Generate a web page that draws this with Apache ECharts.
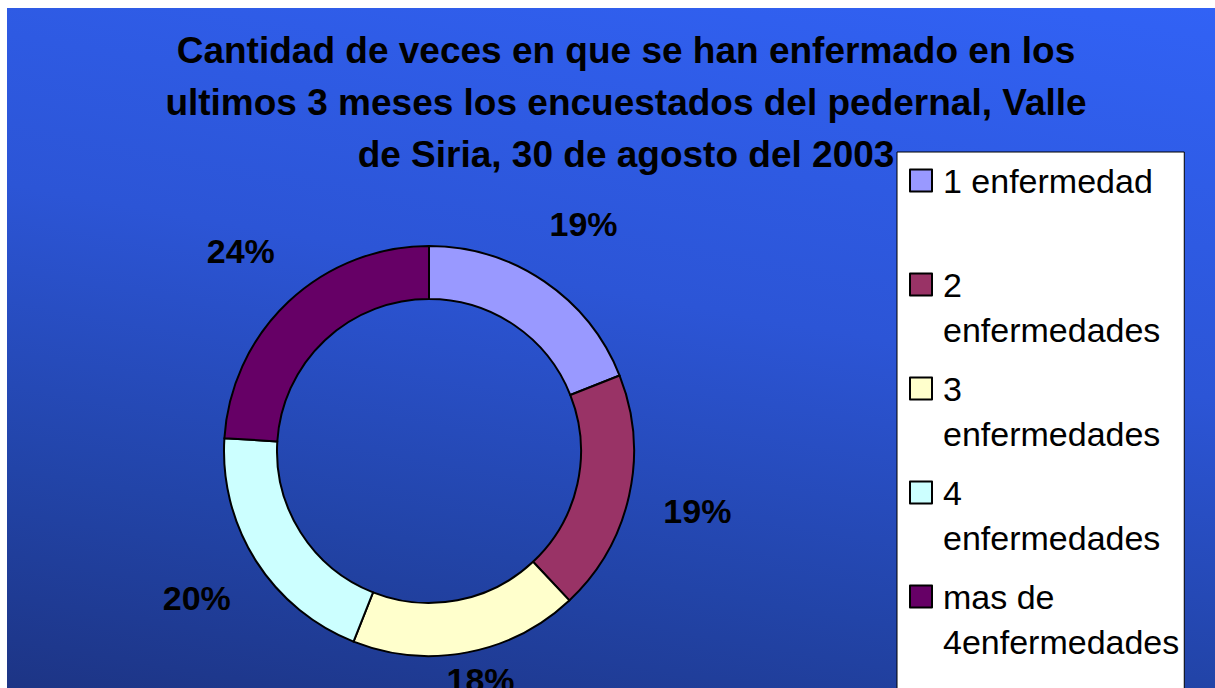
<!DOCTYPE html>
<html>
<head>
<meta charset="utf-8">
<script src="https://cdn.jsdelivr.net/npm/echarts@6/dist/echarts.min.js"></script>
<style>
    body { margin: 0; background: #fff; }
    #main { position: absolute; left: 7px; top: 8px; width: 1208px; height: 680px; }
</style>
</head>
<body>
<div id="main"></div>
<script>
// datos del grafico
var categorias = ['1 enfermedad', '2 enfermedades', '3 enfermedades', '4 enfermedades', 'mas de 4enfermedades']
var porcentajes = [19, 19, 18, 20, 24]
var colores = ['#9999FF', '#993366', '#FFFFCC', '#CCFFFF', '#660066']
// texto de la leyenda tal como se corta en el original
var textoLeyenda = ['1 enfermedad\n ', '2\nenfermedades', '3\nenfermedades', '4\nenfermedades', 'mas de\n4enfermedades']
var titulo = 'Cantidad de veces en que se han enfermado en los\nultimos 3 meses los encuestados del pedernal, Valle\nde Siria, 30 de agosto del 2003'

var lineaLeyenda = 45

var chart = echarts.init(document.getElementById('main'), null, { renderer: 'svg' })

var datos = categorias.map(function (c, i) {
    return { name: c, value: porcentajes[i] }
})

chart.setOption({
    animation: false,
    backgroundColor: {
        type: 'linear',
        x: 0.7406, y: -0.2594, x2: 0.2594, y2: 1.2594,
        colorStops: [
            { offset: 0, color: '#3366ff' },
            { offset: 0.45, color: '#2c55d6' },
            { offset: 0.7, color: '#2244a8' },
            { offset: 1, color: '#1a2c72' }
        ]
    },
    color: colores,
    title: {
        text: titulo,
        left: 619,
        top: 16,
        padding: 0,
        textAlign: 'center',
        textStyle: {
            fontFamily: 'Arial, "Liberation Sans"',
            fontWeight: 'bold',
            fontSize: 37,
            lineHeight: 52,
            color: '#000'
        }
    },
    legend: {
        orient: 'vertical',
        left: 890,
        top: 144,
        height: 700,
        padding: [5, 5, 40, 12],
        backgroundColor: '#fff',
        borderColor: '#000',
        borderWidth: 1,
        itemWidth: 28,
        itemHeight: lineaLeyenda * 2,
        itemGap: 12,
        icon: 'path://M0,0l0,0M28,' + (lineaLeyenda * 2) + 'l0,0M0,' + (lineaLeyenda / 2 - 11) + 'h22v22h-22z',
        itemStyle: { borderColor: '#000', borderWidth: 2 },
        data: categorias,
        formatter: function (name) {
            return textoLeyenda[categorias.indexOf(name)]
        },
        textStyle: {
            fontFamily: 'Arial, "Liberation Sans"',
            fontSize: 34,
            lineHeight: lineaLeyenda,
            color: '#000'
        }
    },
    series: [
        {
            type: 'pie',
            center: [422, 443],
            radius: [152, 205],
            startAngle: 90,
            clockwise: true,
            avoidLabelOverlap: false,
            itemStyle: { borderColor: '#000', borderWidth: 2 },
            label: {
                show: true,
                position: 'outside',
                distanceToLabelLine: 0,
                fontFamily: 'Arial, "Liberation Sans"',
                fontWeight: 'bold',
                fontSize: 34,
                color: '#000',
                formatter: function (p) {
                    return Math.round(p.percent) + '%'
                }
            },
            labelLine: { show: false, length: 70, length2: 0 },
            // etiquetas centradas y sin salir por abajo
            labelLayout: function (p) {
                return {
                    align: 'center',
                    verticalAlign: 'middle',
                    y: Math.min(p.labelRect.y + p.labelRect.height / 2, 672)
                }
            },
            emphasis: { disabled: true },
            data: datos
        }
    ]
})
</script>
</body>
</html>
